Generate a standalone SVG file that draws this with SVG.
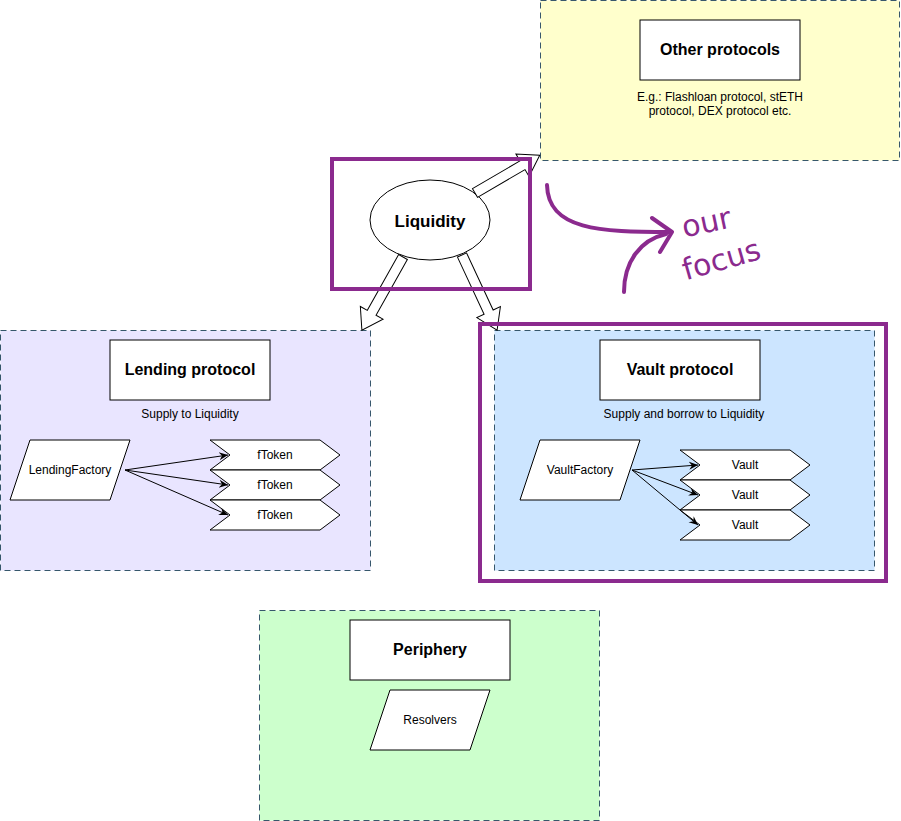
<svg xmlns="http://www.w3.org/2000/svg" width="901" height="821" viewBox="0 0 901 821" font-family="Liberation Sans, Arial, Helvetica, sans-serif">
<style>
text{font-family:"Liberation Sans",Arial,Helvetica,sans-serif;fill:#000}
.grp{stroke:#36576b;stroke-width:1;stroke-dasharray:6 4}
.box{fill:#fff;stroke:#000;stroke-width:1}
.title{font-size:16px;font-weight:bold;text-anchor:middle}
.sm{font-size:12px;text-anchor:middle}
.hl{fill:none;stroke:#8b2a8e;stroke-width:4}
.ba{fill:#fff;stroke:#000;stroke-width:1}
.ln{stroke:#000;stroke-width:1;fill:none}
</style>
<defs>
<marker id="ah" markerWidth="10" markerHeight="10" refX="9" refY="5" orient="auto" markerUnits="userSpaceOnUse"><path d="M0,1 L9,5 L0,9 L3,5 Z" fill="#000"/></marker>
</defs>
<g id="other">
<rect class="grp" x="540.5" y="0.5" width="359" height="160" fill="#ffffcc"/>
<rect class="box" x="640" y="20" width="160" height="60"/>
<text class="title" x="720" y="55">Other protocols</text>
<text class="sm" x="720" y="101">E.g.: Flashloan protocol, stETH</text>
<text class="sm" x="720" y="115">protocol, DEX protocol etc.</text>
</g>
<g id="lending">
<rect class="grp" x="0.5" y="330.5" width="370" height="240" fill="#e9e5ff"/>
<rect class="box" x="110" y="340" width="160" height="60"/>
<text class="title" x="190" y="375">Lending protocol</text>
<text class="sm" x="190" y="418">Supply to Liquidity</text>
<polygon class="box" points="30,440 130,440 110,500 10,500"/>
<text class="sm" x="70" y="474">LendingFactory</text>
<polygon class="box" points="210,440 320,440 340,455 320,470 210,470 230,455"/>
<text class="sm" x="275" y="459">fToken</text>
<polygon class="box" points="210,470 320,470 340,485 320,500 210,500 230,485"/>
<text class="sm" x="275" y="489">fToken</text>
<polygon class="box" points="210,500 320,500 340,515 320,530 210,530 230,515"/>
<text class="sm" x="275" y="519">fToken</text>
</g>
<g id="vault">
<rect class="grp" x="494.5" y="330.5" width="380" height="240" fill="#cce5ff"/>
<rect class="box" x="600" y="340" width="160" height="60"/>
<text class="title" x="680" y="375">Vault protocol</text>
<text class="sm" x="684" y="418">Supply and borrow to Liquidity</text>
<polygon class="box" points="540,440 640,440 620,500 520,500"/>
<text class="sm" x="580" y="474">VaultFactory</text>
<polygon class="box" points="680,450 790,450 810,465 790,480 680,480 700,465"/>
<text class="sm" x="745" y="469">Vault</text>
<polygon class="box" points="680,480 790,480 810,495 790,510 680,510 700,495"/>
<text class="sm" x="745" y="499">Vault</text>
<polygon class="box" points="680,510 790,510 810,525 790,540 680,540 700,525"/>
<text class="sm" x="745" y="529">Vault</text>
</g>
<g id="periphery">
<rect class="grp" x="259.5" y="610.5" width="340" height="210" fill="#ccffcc"/>
<rect class="box" x="350" y="620" width="160" height="60"/>
<text class="title" x="430" y="655">Periphery</text>
<polygon class="box" points="390,690 490,690 470,750 370,750"/>
<text class="sm" x="430" y="724">Resolvers</text>
</g>
<g id="liquidity">
<ellipse class="box" cx="430" cy="220" rx="60" ry="40"/>
<text class="title" x="430" y="227" style="font-size:17px">Liquidity</text>
</g>
<g id="connectors">
<polygon class="ba" points="0,-5 -55,-5 -55,-13 -75,0 -55,13 -55,5 0,5" transform="translate(475,193) rotate(-30.3) scale(-1,1)"/>
<polygon class="ba" points="0,-5 -64,-5 -64,-13 -84,0 -64,13 -64,5 0,5" transform="translate(403,257) rotate(119.3) scale(-1,1)"/>
<polygon class="ba" points="0,-5 -63,-5 -63,-13 -83,0 -63,13 -63,5 0,5" transform="translate(462,255) rotate(65) scale(-1,1)"/>
<path class="ln" d="M125,470 L228,455" marker-end="url(#ah)"/>
<path class="ln" d="M125,470 L228,485" marker-end="url(#ah)"/>
<path class="ln" d="M125,470 L228,515" marker-end="url(#ah)"/>
<path class="ln" d="M632,470 L698,465" marker-end="url(#ah)"/>
<path class="ln" d="M632,470 L698,495" marker-end="url(#ah)"/>
<path class="ln" d="M632,470 L698,525" marker-end="url(#ah)"/>
</g>
<g id="focus">
<rect class="hl" x="332" y="159" width="198" height="130"/>
<rect class="hl" x="480" y="324" width="406" height="257"/>
<path d="M547,185 C548,230 600,232 670,232 M652,218 L672,232 L660,252 M624,292 C624,262 640,240 666,234" fill="none" stroke="#8b2a8e" stroke-width="4" stroke-linecap="round" stroke-linejoin="round"/>
<text x="682" y="234" transform="rotate(-12 700 225)" style="font-family:'DejaVu Sans',sans-serif;font-size:30px;fill:#8b2a8e">our</text>
<text x="680" y="270" transform="rotate(-16 720 255)" style="font-family:'DejaVu Sans',sans-serif;font-size:30px;fill:#8b2a8e">focus</text>
</g>
</svg>
